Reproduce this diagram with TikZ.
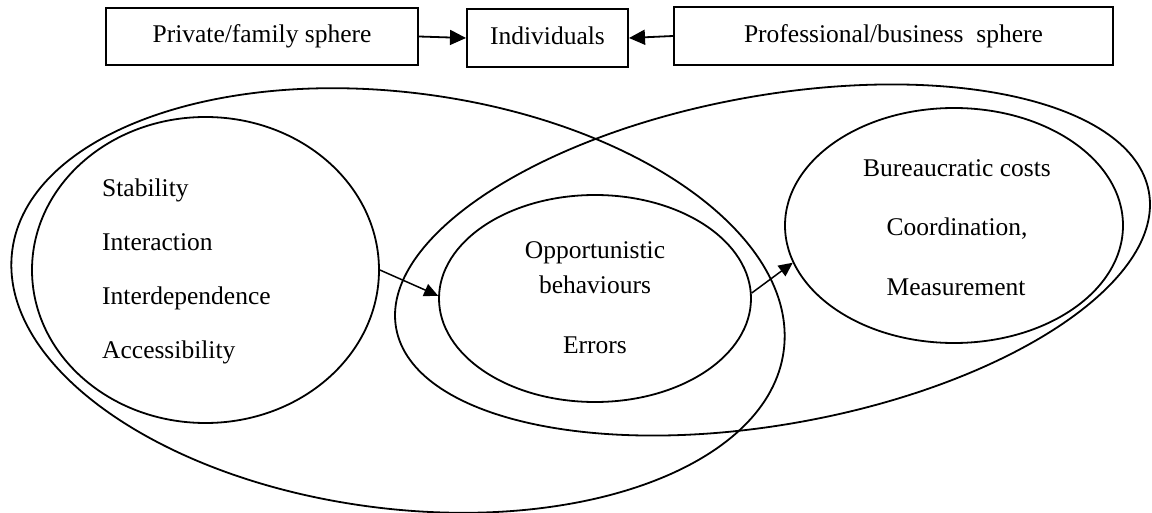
\documentclass[tikz,border=0pt]{standalone}
\usepackage{fontspec}
\setmainfont{Liberation Serif}
\usetikzlibrary{shapes.geometric,arrows.meta}
\begin{document}
\begin{tikzpicture}[x=1pt,y=-1pt,
  txt/.style={font=\fontsize{25.5}{30}\selectfont},
  box/.style={txt, draw, line width=2pt, inner sep=0pt, text height=17.8pt, text depth=5.6pt},
  oval/.style={draw, ellipse, line width=1.8pt, inner sep=0pt},
  lbl/.style={txt, inner sep=0pt},
  arrbig/.style={line width=1.8pt, -{Triangle[length=16pt,width=15pt]}},
  arrsmall/.style={line width=1.5pt, -{Triangle[length=14pt,width=13pt]}}
]
\useasboundingbox (0,0) rectangle (1152,513);
\fill[white] (0,0) rectangle (1152,513);

% top boxes
\node[box, minimum width=312pt, minimum height=57pt] (priv) at (262,36.5) {Private/family sphere};
\node[box, minimum width=161pt, minimum height=58pt] (ind) at (547.5,38) {Individuals};
\node[box, minimum width=439pt, minimum height=58pt] (prof) at (893.5,36) {Professional/business\hspace{0.25em} sphere};

% ellipses
\node[oval, minimum width=778pt, minimum height=416pt, rotate=-7.4] (bigL) at (398,300.5) {};
\node[oval, minimum width=765pt, minimum height=328.6pt, rotate=10.3] (bigR) at (772.5,260) {};
\node[oval, minimum width=347pt, minimum height=306pt] (stab) at (205.5,270) {};
\node[oval, minimum width=312pt, minimum height=207pt] (opp) at (595,298.5) {};
\node[oval, minimum width=338pt, minimum height=235pt] (bur) at (954,225.5) {};

% texts
\node[lbl, anchor=base west] (s1) at (102,197) {Stability};
\node[lbl, anchor=base west] (s2) at (102,251) {Interaction};
\node[lbl, anchor=base west] (s3) at (102,305) {Interdependence};
\node[lbl, anchor=base west] (s4) at (102,358) {Accessibility};

\node[lbl, anchor=base] (o1) at (595,259) {Opportunistic};
\node[lbl, anchor=base] (o2) at (595,294) {behaviours};
\node[lbl, anchor=base] (o3) at (595,353) {Errors};

\node[lbl, anchor=base] (b1) at (957,177) {Bureaucratic costs};
\node[lbl, anchor=base] (b2) at (957,236) {Coordination,};
\node[lbl, anchor=base] (b3) at (956,295) {Measurement};

% arrows
\draw[arrbig] (priv.east) -- (ind.west);
\draw[arrbig] (prof.west) -- (ind.east);
\draw[arrsmall] (stab.east) -- (opp.179);
\draw[arrsmall] (opp.2) -- (bur.193);
\end{tikzpicture}
\end{document}
